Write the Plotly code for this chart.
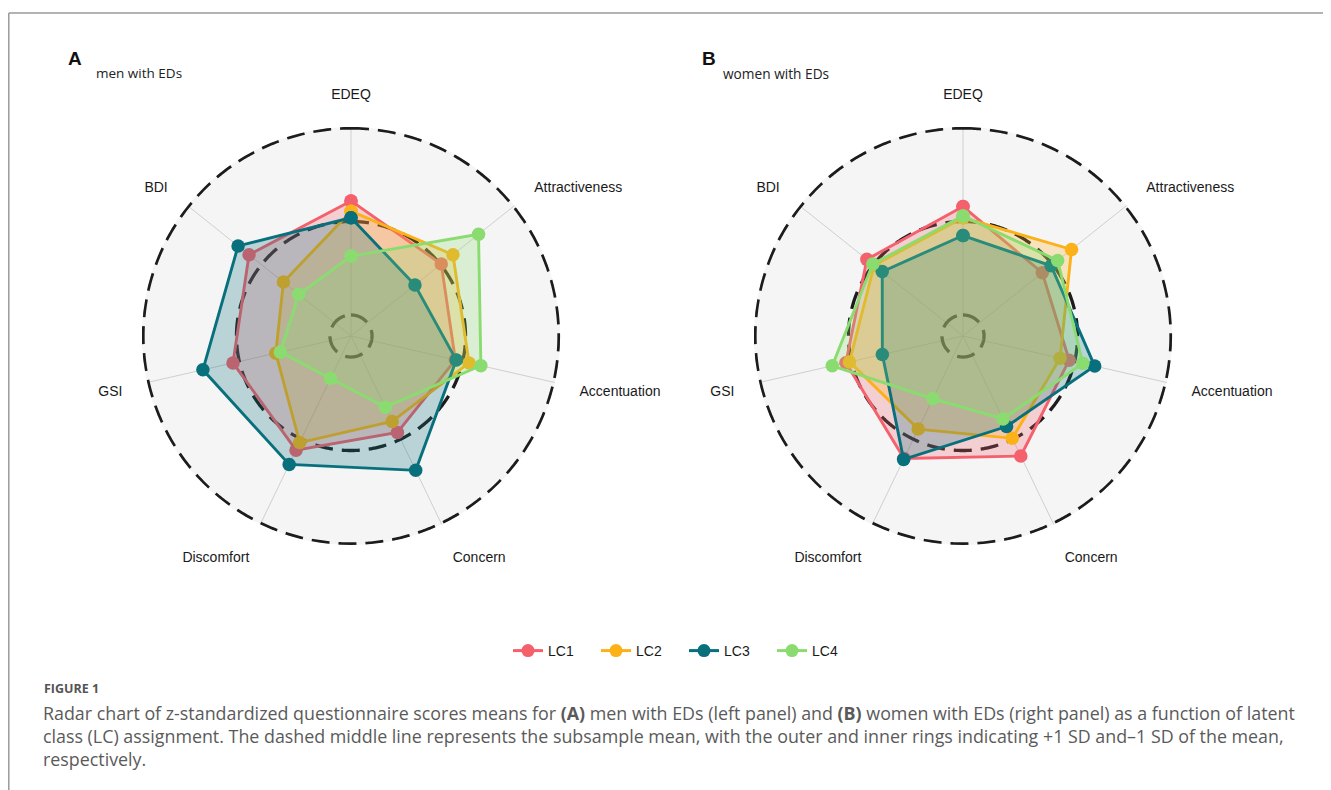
import numpy as np
import plotly.graph_objects as go

categories = ["EDEQ", "Attractiveness", "Accentuation", "Concern", "Discomfort", "GSI", "BDI"]
classes = ["LC1", "LC2", "LC3", "LC4"]

# Panel A: men with EDs (z-scores)
men_LC1 = [0.22, 0.01, -0.08, -0.08, 0.13, 0.07, 0.17]
men_LC2 = [0.11, 0.17, 0.07, -0.21, 0.04, -0.40, -0.30]
men_LC3 = [0.04, -0.35, -0.07, 0.37, 0.30, 0.40, 0.32]
men_LC4 = [-0.37, 0.52, 0.20, -0.38, -0.72, -0.45, -0.51]

# Panel B: women with EDs (z-scores)
women_LC1 = [0.16, -0.14, -0.06, 0.20, 0.23, 0.06, 0.09]
women_LC2 = [0.04, 0.26, -0.16, -0.01, -0.12, 0.02, -0.01]
women_LC3 = [-0.15, -0.02, 0.22, -0.15, 0.24, -0.34, -0.12]
women_LC4 = [0.06, 0.07, 0.09, -0.24, -0.48, 0.21, 0.01]

ring_levels = [-1, 0, 1]  # -1 SD, mean, +1 SD

line_colors = ["#F4606C", "#FBB117", "#08707C", "#8BDC70"]
fill_colors = ["rgba(244,96,108,0.25)", "rgba(251,177,23,0.25)",
               "rgba(8,112,124,0.25)", "rgba(139,220,112,0.25)"]

W, H, OFF = 1331, 790, 8  # page body margin compensation


def px(X):
    return (X - OFF) / W


def py(Y):
    return 1 - (Y - OFF) / H


cat_angles = [i * 360 / len(categories) for i in range(len(categories))]

panels = [
    ("polar", [men_LC1, men_LC2, men_LC3, men_LC4]),
    ("polar2", [women_LC1, women_LC2, women_LC3, women_LC4]),
]

fig = go.Figure()

ring_theta = np.linspace(0, 360, 721)
for sub, series in panels:
    for lvl in ring_levels:
        fig.add_trace(go.Scatterpolar(
            r=[lvl] * len(ring_theta), theta=ring_theta,
            mode="lines", line=dict(color="#1c1c1c", width=3.3, dash="18px,9px"),
            hoverinfo="skip", showlegend=False, subplot=sub, cliponaxis=False))
    for name, vals, lc, fc in zip(classes, series, line_colors, fill_colors):
        fig.add_trace(go.Scatterpolar(
            r=vals + vals[:1], theta=cat_angles + cat_angles[:1],
            mode="lines+markers", fill="toself", fillcolor=fc,
            line=dict(color=lc, width=2.9), marker=dict(color=lc, size=13.5),
            name=name, legendgroup=name, showlegend=False, subplot=sub, cliponaxis=False))

# legend entries (line + marker only)
for name, lc in zip(classes, line_colors):
    fig.add_trace(go.Scatterpolar(
        r=[None], theta=[None], mode="lines+markers",
        line=dict(color=lc, width=3), marker=dict(color=lc, size=13),
        name=name, legendgroup=name, showlegend=True, subplot="polar"))

RMIN, RMAX = -1.225, 1.012


def polar_layout(cx):
    cy = 336
    R = 208 * (RMAX - RMIN) / (1 - RMIN)
    return dict(
        domain=dict(x=[px(cx - R), px(cx + R)], y=[py(cy + R), py(cy - R)]),
        bgcolor="#F5F5F5",
        radialaxis=dict(range=[RMIN, RMAX], visible=True, showline=False,
                        showticklabels=False, showgrid=False, ticks=""),
        angularaxis=dict(direction="clockwise", rotation=90, showline=False,
                         tickmode="array", tickvals=cat_angles, ticktext=categories,
                         showgrid=True, gridcolor="#CFCFCF", gridwidth=0.8,
                         ticks="outside", ticklen=22, tickcolor="rgba(0,0,0,0)",
                         tickfont=dict(family="Liberation Sans, Arial", size=14, color="#1a1a1a")),
    )


fig.update_layout(
    width=W, height=H,
    margin=dict(l=0, r=0, t=0, b=0),
    paper_bgcolor="white",
    polar=polar_layout(351),
    polar2=polar_layout(963),
    showlegend=True,
    legend=dict(orientation="h", x=px(508), xanchor="left", y=py(651),
                yanchor="middle", font=dict(family="Liberation Sans, Arial", size=14, color="#1a1a1a"),
                entrywidth=43, entrywidthmode="pixels", bgcolor="rgba(0,0,0,0)"),
)

cap_font = "Open Sans, Noto Sans, Liberation Sans"
annots = [
    dict(x=66, y=58, text="<b>A</b>", size=19, color="#111", family="Liberation Sans, Arial"),
    dict(x=94, y=73, text="men with EDs", size=13.5, color="#222", family=cap_font),
    dict(x=700, y=58, text="<b>B</b>", size=19, color="#111", family="Liberation Sans, Arial"),
    dict(x=721, y=73, text="women with EDs", size=13.7, color="#222", family=cap_font),
    dict(x=42, y=688, text="<b>FIGURE 1</b>", size=12.5, color="#555", family=cap_font),
    dict(x=41, y=713, text="Radar chart of z-standardized questionnaire scores means for <b>(A)</b> men with EDs (left panel) and <b>(B)</b> women with EDs (right panel) as a function of latent",
         size=17.85, color="#5a5a5a", family=cap_font),
    dict(x=41, y=736, text="class (LC) assignment. The dashed middle line represents the subsample mean, with the outer and inner rings indicating +1 SD and\u20131 SD of the mean,",
         size=17.85, color="#5a5a5a", family=cap_font),
    dict(x=41, y=759, text="respectively.",
         size=17.85, color="#5a5a5a", family=cap_font),
]
for a in annots:
    fig.add_annotation(x=px(a["x"]), y=py(a["y"]), xref="paper", yref="paper",
                       text=a["text"], showarrow=False, xanchor="left", yanchor="middle",
                       font=dict(size=a["size"], color=a["color"], family=a["family"]))

fig.add_shape(type="line", xref="paper", yref="paper", x0=px(8.8), x1=1, y0=py(13), y1=py(13),
              line=dict(color="#9a9a9a", width=1.5))
fig.add_shape(type="line", xref="paper", yref="paper", x0=px(8.8), x1=px(8.8), y0=py(13), y1=0,
              line=dict(color="#9a9a9a", width=1.5))

fig.write_html("out.html")
